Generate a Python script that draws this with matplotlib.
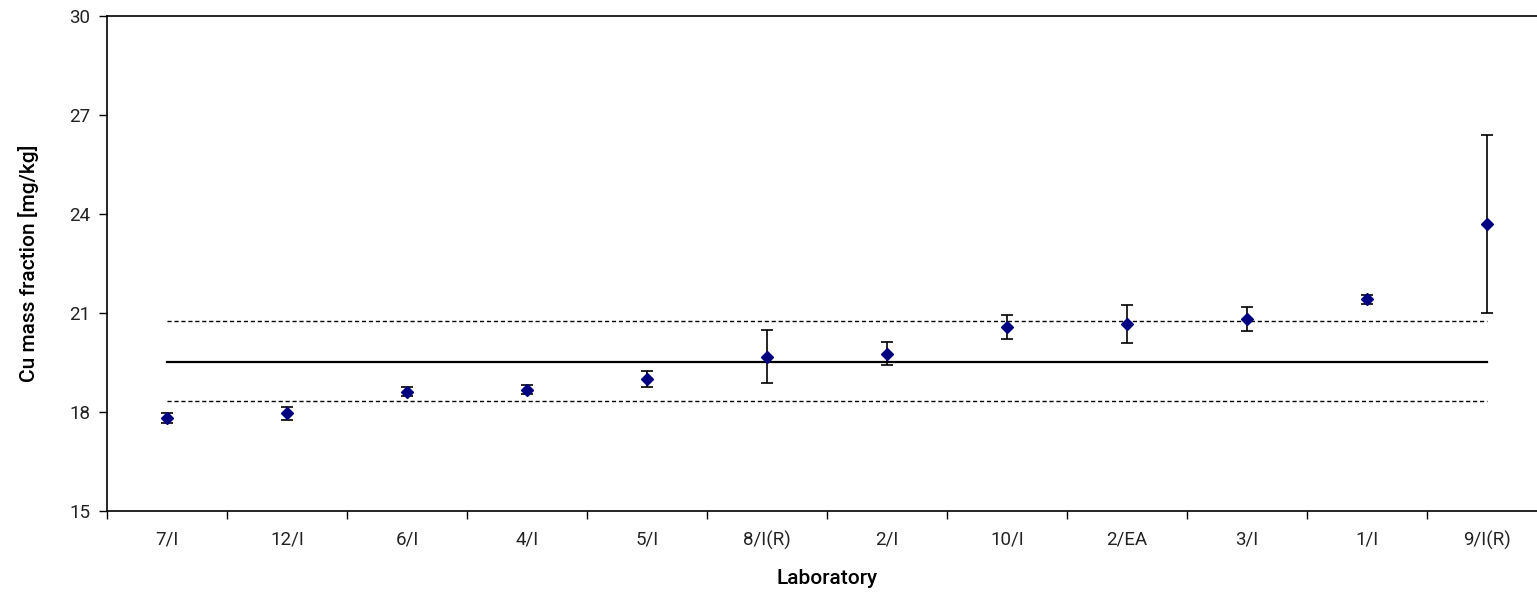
import matplotlib
matplotlib.use("Agg")
import matplotlib.pyplot as plt

labs = ["7/I", "12/I", "6/I", "4/I", "5/I", "8/I(R)", "2/I", "10/I", "2/EA", "3/I", "1/I", "9/I(R)"]
values = [17.82, 17.96, 18.62, 18.68, 19.00, 19.67, 19.77, 20.57, 20.67, 20.82, 21.42, 23.70]
errors = [0.15, 0.20, 0.14, 0.14, 0.25, 0.80, 0.34, 0.36, 0.57, 0.36, 0.14, 2.70]
ref_mean = 19.53
ref_upper = 20.76
ref_lower = 18.34
yticks = [15, 18, 21, 24, 27, 30]

plt.rcParams['font.family'] = ['Roboto', 'DejaVu Sans']

fig = plt.figure(figsize=(15.37, 5.93), dpi=100)
ax = fig.add_axes([107/1537, 1-511/593, 1440/1537, 495/593])

n = len(labs)
xs = [i + 0.5 for i in range(n)]

ax.plot([xs[0], xs[-1]], [ref_mean, ref_mean], color='black', lw=1.6, zorder=1)
ax.plot([xs[0], xs[-1]], [ref_upper, ref_upper], color='black', lw=1.0, ls=(0, (3, 2)), zorder=1)
ax.plot([xs[0], xs[-1]], [ref_lower, ref_lower], color='black', lw=1.0, ls=(0, (3, 2)), zorder=1)

ax.errorbar(xs, values, yerr=errors, fmt='D', color='#000080', markersize=6,
            ecolor='black', elinewidth=1.2, capsize=4, capthick=1.2, zorder=3)

ax.set_xlim(0, n)
ax.set_ylim(15, 30)
ax.set_yticks(yticks)
ax.set_yticklabels([str(t) for t in yticks], fontsize=13.5, color='#222222')
ax.set_xticks(range(n + 1))
ax.set_xticklabels([])
ax.set_xticks(xs, minor=True)
ax.set_xticklabels(labs, minor=True, fontsize=13.5, color='#222222')
ax.tick_params(axis='x', which='minor', length=0, pad=14)
ax.tick_params(axis='x', which='major', length=6, width=1, direction='out')
ax.tick_params(axis='y', length=6, width=1, direction='out', pad=6)

for s in ['left', 'bottom', 'top']:
    ax.spines[s].set_linewidth(1.2)
ax.spines['right'].set_visible(False)

ax.set_xlabel("Laboratory", fontsize=15, fontweight='medium', labelpad=14)
ax.set_ylabel("Cu mass fraction [mg/kg]", fontsize=15, fontweight='medium', labelpad=22)

fig.savefig("out.png", dpi=100)
